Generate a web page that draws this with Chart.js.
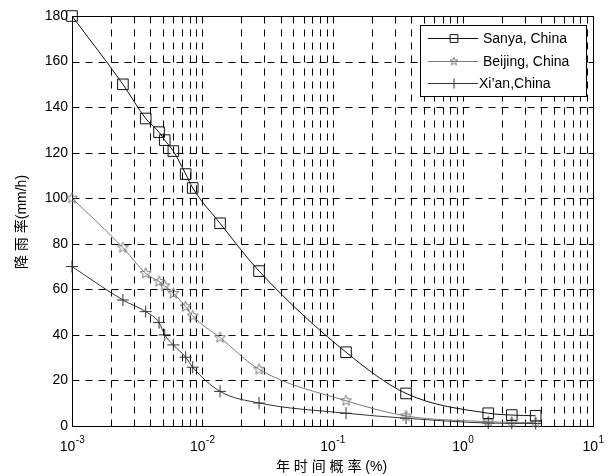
<!DOCTYPE html>
<html>
<head>
<meta charset="utf-8">
<script src="https://cdn.jsdelivr.net/npm/chart.js@4"></script>
<style>
  html, body { margin: 0; padding: 0; background: #fff; }
  #wrap { width: 614px; height: 476px; }
</style>
</head>
<body>
<div id="wrap"><canvas id="rainChart" width="614" height="476"></canvas></div>
<script>
// ── data ──────────────────────────────────────────────────
const probPct = [0.001, 0.00246, 0.00368, 0.00466, 0.00515, 0.0060, 0.00746, 0.00845,
                 0.0137, 0.0273, 0.127, 0.367, 1.57, 2.38, 3.63];
const sanya   = [180, 150, 135, 129, 125.5, 120.7, 110.6, 104.5, 89, 68, 32.4, 14.3, 5.6, 4.8, 4.5];
const beijing = [100, 78.3, 67, 63.4, 61.5, 58.2, 52.4, 48.3, 38.8, 24.9, 11.1, 4.4, 1.9, 1.6, 1.5];
const xian    = [70, 55.3, 50.2, 45.4, 40, 35.6, 30.2, 25.8, 15.2, 10.1, 5.6, 3.4, 1.3, 1.2, 1.1];

const seriesNames = ["Sanya, China", "Beijing, China", "Xi\u2019an,China"];
const decadeVals  = [0.001, 0.01, 0.1, 1, 10];
const decadeExps  = ["-3", "-2", "-1", "0", "1"];
const minorMults  = [2, 3, 4, 5, 6, 7, 8, 9];
const yTicks      = [0, 20, 40, 60, 80, 100, 120, 140, 160, 180];

const xTitle = "年 时 间 概 率 (%)";
const yTitle = "降 雨 率(mm/h)";

const LAT = 'Arial, "Liberation Sans", "Noto Sans CJK SC", sans-serif';
const COL = { sanya: "#111", beijing: "#7a7a7a", xian: "#333" };

/* ── pentagram marker (outline) ─────────────────────────── */
function makeStar(color, outer) {
  const s = Math.ceil(outer * 2 + 3);
  const c = document.createElement("canvas");
  c.width = s; c.height = s;
  const g = c.getContext("2d");
  g.strokeStyle = color; g.lineWidth = 1;
  g.beginPath();
  for (let i = 0; i < 10; i++) {
    const r = i % 2 ? outer * 0.42 : outer;
    const a = -Math.PI / 2 + i * Math.PI / 5;
    const px = s / 2 + r * Math.cos(a), py = s / 2 + r * Math.sin(a);
    i ? g.lineTo(px, py) : g.moveTo(px, py);
  }
  g.closePath(); g.stroke();
  return c;
}
const starBig = makeStar(COL.beijing, 5.8);
const starSmall = makeStar(COL.beijing, 4.2);

const toPts = ys => ys.map((y, i) => ({ x: probPct[i], y }));

/* ── grid, box, inward ticks ────────────────────────────── */
const frame = {
  id: "frame",
  beforeDatasetsDraw(chart) {
    const { ctx, chartArea: a, scales: { x, y } } = chart;
    const L = Math.round(a.left) + 0.5, R = Math.round(a.right) + 0.5;
    const T = Math.round(a.top) + 0.5, B = Math.round(a.bottom) + 0.5;
    ctx.save();
    ctx.strokeStyle = "#000";
    ctx.lineWidth = 1;
    ctx.setLineDash([7, 6]);
    x.ticks.forEach(t => {
      const px = Math.round(x.getPixelForValue(t.value)) + 0.5;
      if (px <= L + 1 || px >= R - 1) return;
      ctx.beginPath(); ctx.moveTo(px, T); ctx.lineTo(px, B); ctx.stroke();
    });
    yTicks.forEach(v => {
      const py = Math.round(y.getPixelForValue(v)) + 0.5;
      if (py <= T + 1 || py >= B - 1) return;
      ctx.beginPath(); ctx.moveTo(L, py); ctx.lineTo(R, py); ctx.stroke();
    });
    ctx.setLineDash([]);
    // inward ticks
    x.ticks.forEach(t => {
      const px = Math.round(x.getPixelForValue(t.value)) + 0.5;
      ctx.beginPath();
      ctx.moveTo(px, B); ctx.lineTo(px, B - 5);
      ctx.moveTo(px, T); ctx.lineTo(px, T + 5);
      ctx.stroke();
    });
    yTicks.forEach(v => {
      const py = Math.round(y.getPixelForValue(v)) + 0.5;
      ctx.beginPath();
      ctx.moveTo(L, py); ctx.lineTo(L + 5, py);
      ctx.moveTo(R, py); ctx.lineTo(R - 5, py);
      ctx.stroke();
    });
    ctx.strokeRect(L, T, R - L, B - T);
    ctx.restore();
  },
  afterDraw(chart) {
    const { ctx, chartArea: a, scales: { x } } = chart;
    ctx.save();
    ctx.fillStyle = "#000";
    // x tick labels 10^n
    decadeVals.forEach((v, i) => {
      const px = x.getPixelForValue(v);
      ctx.font = "14px " + LAT;
      const wb = ctx.measureText("10").width;
      ctx.font = "10px " + LAT;
      const we = ctx.measureText(decadeExps[i]).width;
      const x0 = px - (wb + we) / 2;
      ctx.textAlign = "left"; ctx.textBaseline = "alphabetic";
      ctx.font = "14px " + LAT;
      ctx.fillText("10", x0, 451);
      ctx.font = "10px " + LAT;
      ctx.fillText(decadeExps[i], x0 + wb + 0.5, 443);
    });
    // axis titles
    ctx.font = "14px " + LAT;
    ctx.textAlign = "center";
    ctx.fillText(xTitle, (a.left + a.right) / 2 - 1, 471);
    ctx.translate(22, 222);
    ctx.rotate(-Math.PI / 2);
    ctx.textBaseline = "middle";
    ctx.fillText(yTitle, 0, 0);
    ctx.restore();

    // legend box
    ctx.save();
    const bx = 420.5, by = 25.5, bw = 166, bh = 71;
    ctx.fillStyle = "#fff";
    ctx.fillRect(bx, by, bw, bh);
    ctx.strokeStyle = "#000"; ctx.lineWidth = 1;
    ctx.strokeRect(bx, by, bw, bh);
    const rows = [38, 61, 83];
    const cols = [COL.sanya, COL.beijing, COL.xian];
    rows.forEach((ry, i) => {
      ctx.strokeStyle = cols[i]; ctx.lineWidth = 1;
      ctx.beginPath(); ctx.moveTo(428, ry + 0.5); ctx.lineTo(478, ry + 0.5); ctx.stroke();
      const opts = { pointStyle: i === 0 ? "rect" : i === 1 ? starSmall : "cross",
                     radius: i === 0 ? 5.5 : 5, rotation: 0, borderWidth: 1 };
      ctx.fillStyle = "rgba(0,0,0,0)";
      Chart.helpers.drawPoint(ctx, opts, 454, ry + 0.5);
      ctx.fillStyle = "#000";
      ctx.font = "14px " + LAT;
      ctx.textAlign = "left"; ctx.textBaseline = "middle";
      ctx.fillText(seriesNames[i], i === 2 ? 479 : 483, ry + 1);
    });
    ctx.restore();
  }
};

const ds = (label, data, color, style, radius) => ({
  label, data, borderColor: color, borderWidth: 1,
  pointStyle: style, pointRadius: radius, pointBorderColor: color,
  pointBackgroundColor: "rgba(0,0,0,0)", pointBorderWidth: 1,
  cubicInterpolationMode: "monotone", fill: false, clip: false
});

new Chart(document.getElementById("rainChart"), {
  type: "line",
  data: {
    datasets: [
      ds(seriesNames[0], toPts(sanya), COL.sanya, "rect", 7.5),
      ds(seriesNames[1], toPts(beijing), COL.beijing, starBig, 6),
      ds(seriesNames[2], toPts(xian), COL.xian, "cross", 6)
    ]
  },
  options: {
    responsive: false,
    animation: false,
    layout: { padding: { top: 16, right: 21, left: 0, bottom: 0 } },
    plugins: { legend: { display: false }, tooltip: { enabled: false } },
    scales: {
      x: {
        type: "logarithmic", min: 0.001, max: 10,
        afterBuildTicks: s => {
          const t = [];
          decadeVals.forEach((d, i) => {
            t.push({ value: d });
            if (i < decadeVals.length - 1) minorMults.forEach(m => t.push({ value: d * m }));
          });
          s.ticks = t;
        },
        afterFit: s => { s.height = 50; },
        ticks: { display: false },
        grid: { display: false },
        border: { display: false }
      },
      y: {
        min: 0, max: 180,
        afterBuildTicks: s => { s.ticks = yTicks.map(v => ({ value: v })); },
        afterFit: s => { s.width = 72; },
        ticks: { color: "#000", font: { size: 14, family: LAT }, padding: 4 },
        grid: { display: false, drawTicks: false },
        border: { display: false }
      }
    }
  },
  plugins: [frame]
});
</script>
</body>
</html>
